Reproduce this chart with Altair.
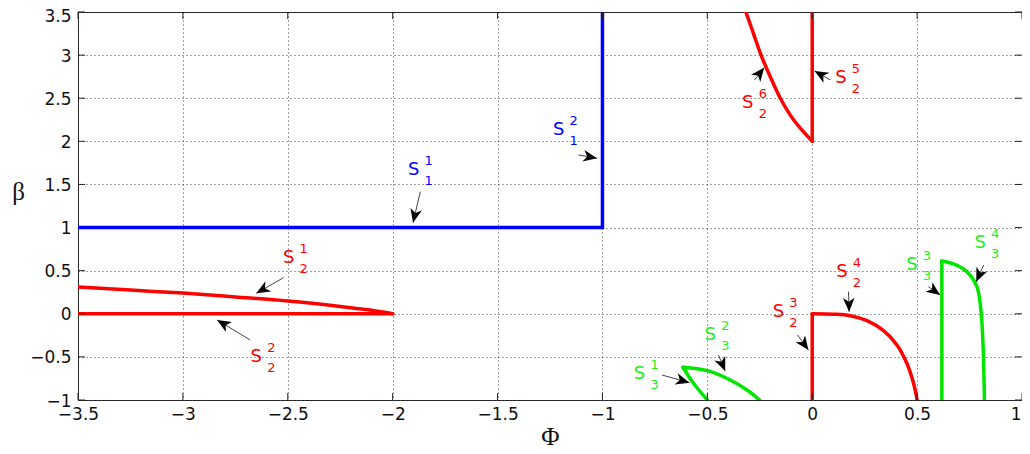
import math
import altair as alt
import pandas as pd

# ---------------- data ----------------
x_ticks = [-3.5, -3, -2.5, -2, -1.5, -1, -0.5, 0, 0.5, 1]
y_ticks = [-1, -0.5, 0, 0.5, 1, 1.5, 2, 2.5, 3, 3.5]

# straight segments
s1_x = [-3.5, -1.0, -1.0]
s1_y = [1.0, 1.0, 3.5]
s22_x = [-3.5, -2.0]
s22_y = [0.0, 0.0]
s23_x = [0.0, 0.0]
s23_y = [-1.0, 0.0]
s25_x = [0.0, 0.0]
s25_y = [2.0, 3.5]
s33_x = [0.618, 0.618]
s33_y = [-1.0, 0.613]

# curved branches
s21_x = [-3.5, -3.25, -3.0, -2.75, -2.5, -2.25, -2.1, -2.0]
s21_y = [0.31, 0.275, 0.24, 0.195, 0.148, 0.085, 0.04, 0.0]
s24_x = [0.0, 0.1, 0.181, 0.261, 0.34, 0.404, 0.451, 0.483, 0.5]
s24_y = [0.0, -0.005, -0.022, -0.08, -0.196, -0.362, -0.574, -0.806, -1.0]
s26_x = [-0.316, -0.28, -0.244, -0.2, -0.152, -0.089, 0.0]
s26_y = [3.5, 3.25, 3.0, 2.75, 2.5, 2.25, 2.0]
s31_x = [-0.5, -0.566, -0.616]
s31_y = [-1.0, -0.806, -0.62]
s32_x = [-0.616, -0.5, -0.391, -0.311, -0.251]
s32_y = [-0.62, -0.66, -0.768, -0.884, -1.0]
s34_x = [0.618, 0.674, 0.737, 0.785, 0.804, 0.814, 0.821]
s34_y = [0.613, 0.578, 0.489, 0.314, 0.044, -0.342, -1.0]

straight = [
    ("c1", "S1", s1_x, s1_y),
    ("c22", "S2", s22_x, s22_y),
    ("c23", "S2", s23_x, s23_y),
    ("c25", "S2", s25_x, s25_y),
    ("c33", "S3", s33_x, s33_y),
]
curved = [
    ("c21", "S2", s21_x, s21_y),
    ("c24", "S2", s24_x, s24_y),
    ("c26", "S2", s26_x, s26_y),
    ("c31", "S3", s31_x, s31_y),
    ("c32", "S3", s32_x, s32_y),
    ("c34", "S3", s34_x, s34_y),
]

# labels S^sup_sub
label_group = ["S1", "S1", "S2", "S2", "S2", "S2", "S2", "S2", "S3", "S3", "S3", "S3"]
label_sup = ["1", "2", "6", "5", "1", "2", "3", "4", "1", "2", "3", "4"]
label_sub = ["1", "1", "2", "2", "2", "2", "2", "2", "3", "3", "3", "3"]
label_x = [-1.900, -1.209, -0.307, 0.137, -2.496, -2.650, -0.161, 0.142, -0.823, -0.486, 0.475, 0.801]
label_y = [1.668, 2.132, 2.442, 2.739, 0.644, -0.505, 0.024, 0.488, -0.698, -0.246, 0.566, 0.818]

# arrows (tail -> tip)
tail_x = [-1.868, -1.114, -0.275, 0.086, -2.520, -2.679, -0.070, 0.173, -0.716, -0.447, 0.554, 0.817]
tail_y = [1.417, 1.842, 2.712, 2.712, 0.419, -0.304, -0.246, 0.256, -0.710, -0.478, 0.314, 0.566]
tip_x = [-1.903, -1.026, -0.229, 0.011, -2.650, -2.837, -0.018, 0.176, -0.585, -0.415, 0.610, 0.782]
tip_y = [1.057, 1.804, 2.855, 2.817, 0.238, -0.072, -0.420, 0.024, -0.799, -0.664, 0.218, 0.372]

# ---------------- layout ----------------
W, H = 944, 388
XMIN, XMAX, YMIN, YMAX = -3.5, 1.0, -1.0, 3.5


def to_df(items):
    rows = []
    for name, grp, xs_, ys_ in items:
        for i, (xv, yv) in enumerate(zip(xs_, ys_)):
            rows.append({"curve": name, "grp": grp, "i": i, "x": xv, "y": yv})
    return pd.DataFrame(rows)


straight_df = to_df(straight)
curved_df = to_df(curved)

lab_df = pd.DataFrame({"grp": label_group, "sup": label_sup, "sub": label_sub,
                       "x": label_x, "y": label_y})

angles = []
for tx, ty, hx, hy in zip(tail_x, tail_y, tip_x, tip_y):
    dxp = (hx - tx) * W / (XMAX - XMIN)
    dyp = -(hy - ty) * H / (YMAX - YMIN)
    angles.append(math.degrees(math.atan2(dxp, -dyp)) % 360)
arr_df = pd.DataFrame({"x": tail_x, "y": tail_y, "x2": tip_x, "y2": tip_y, "angle": angles})

color_scale = alt.Scale(domain=["S1", "S2", "S3"], range=["#0000FF", "#FF0000", "#00E600"])
text_scale = alt.Scale(domain=["S1", "S2", "S3"], range=["#0000FF", "#FF0000", "#22EE22"])

xs = alt.Scale(domain=[XMIN, XMAX], nice=False, zero=False)
ys = alt.Scale(domain=[YMIN, YMAX], nice=False, zero=False)

x_axis = alt.Axis(values=x_ticks, format="~g", title="Φ", grid=True, ticks=False, domain=False,
                  labelFlush=False, labelOverlap=False, labelPadding=6,
                  labelAlign={"condition": {"test": "datum.value == 1", "value": "right"},
                              "value": "center"},
                  labelOffset={"condition": {"test": "datum.value == 1", "value": -1},
                               "value": 0},
                  titleX=472, titleY=36, titleAlign="center", titleBaseline="middle")
y_axis = alt.Axis(values=y_ticks, format="~g", title="β", grid=True, ticks=False, domain=False,
                  labelFlush=False, labelOverlap=False, labelPadding=7,
                  labelOffset={"condition": {"test": "datum.value == 3.5", "value": 4},
                               "value": 1},
                  titleAngle=0, titleX=-60, titleY=179, titleAlign="center", titleBaseline="middle")

line_style = dict(strokeWidth=3.5, clip=True, strokeCap="round", strokeJoin="miter")
lines_straight = alt.Chart(straight_df).mark_line(**line_style).encode(
    x=alt.X("x:Q", scale=xs, axis=x_axis),
    y=alt.Y("y:Q", scale=ys, axis=y_axis),
    detail="curve:N",
    order="i:Q",
    color=alt.Color("grp:N", scale=color_scale, legend=None),
)
lines_curved = alt.Chart(curved_df).mark_line(interpolate="catmull-rom", **line_style).encode(
    x=alt.X("x:Q", scale=xs),
    y=alt.Y("y:Q", scale=ys),
    detail="curve:N",
    order="i:Q",
    color=alt.Color("grp:N", scale=color_scale, legend=None),
)

tick_x_df = pd.DataFrame({"v": x_ticks})
tick_y_df = pd.DataFrame({"v": y_ticks})
tick_style = dict(color="#222", strokeWidth=1)
ticks_b = alt.Chart(tick_x_df).mark_rule(**tick_style).encode(
    x=alt.X("v:Q", scale=xs), y=alt.value(H), y2=alt.value(H - 7))
ticks_t = alt.Chart(tick_x_df).mark_rule(**tick_style).encode(
    x=alt.X("v:Q", scale=xs), y=alt.value(0), y2=alt.value(7))
ticks_l = alt.Chart(tick_y_df).mark_rule(**tick_style).encode(
    y=alt.Y("v:Q", scale=ys), x=alt.value(0), x2=alt.value(7))
ticks_r = alt.Chart(tick_y_df).mark_rule(**tick_style).encode(
    y=alt.Y("v:Q", scale=ys), x=alt.value(W), x2=alt.value(W - 7))

arrow_lines = alt.Chart(arr_df).mark_rule(color="#444", strokeWidth=1).encode(
    x=alt.X("x:Q", scale=xs), y=alt.Y("y:Q", scale=ys),
    x2="x2:Q", y2="y2:Q")
arrow_heads = alt.Chart(arr_df).mark_point(
    shape="M0,0 L0.85,2 L0,1.45 L-0.85,2 Z", filled=True, size=190, color="black", opacity=1,
    strokeWidth=0).encode(
    x=alt.X("x2:Q", scale=xs), y=alt.Y("y2:Q", scale=ys),
    angle=alt.Angle("angle:Q", scale=None))

s_text = alt.Chart(lab_df).mark_text(font="DejaVu Sans", fontSize=18, align="center",
                                      baseline="middle").encode(
    x=alt.X("x:Q", scale=xs), y=alt.Y("y:Q", scale=ys), text=alt.value("S"),
    color=alt.Color("grp:N", scale=text_scale, legend=None))
sup_text = alt.Chart(lab_df).mark_text(font="DejaVu Sans", fontSize=13, align="center",
                                        baseline="middle", dx=15, dy=-9).encode(
    x=alt.X("x:Q", scale=xs), y=alt.Y("y:Q", scale=ys), text="sup:N",
    color=alt.Color("grp:N", scale=text_scale, legend=None))
sub_text = alt.Chart(lab_df).mark_text(font="DejaVu Sans", fontSize=13, align="center",
                                        baseline="middle", dx=15, dy=11).encode(
    x=alt.X("x:Q", scale=xs), y=alt.Y("y:Q", scale=ys), text="sub:N",
    color=alt.Color("grp:N", scale=text_scale, legend=None))

chart = alt.layer(
    lines_straight, lines_curved, ticks_b, ticks_t, ticks_l, ticks_r,
    arrow_lines, arrow_heads, s_text, sup_text, sub_text
).resolve_scale(color="independent").properties(
    width=W, height=H,
    autosize=alt.AutoSizeParams(type="none"),
    padding={"left": 70, "top": 4, "right": 0, "bottom": 46},
    background="white",
).configure_view(
    stroke="#333", strokeWidth=1
).configure_axis(
    labelFont="DejaVu Sans", labelFontSize=17, labelColor="#111",
    titleFont="Liberation Serif", titleFontSize=25, titleFontWeight="normal", titleColor="#111",
    gridColor="#000", gridDash=[1, 3], gridOpacity=0.75, gridWidth=1,
)

chart.save("out.html", embed_options={"renderer": "svg", "actions": False})
